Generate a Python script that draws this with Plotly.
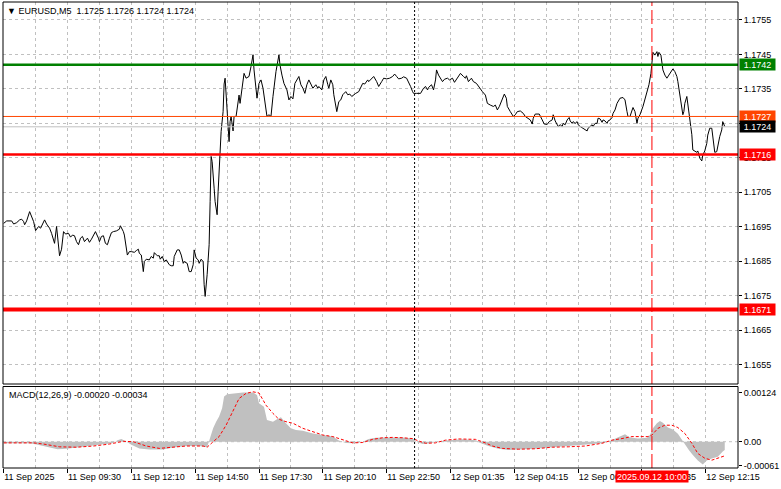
import plotly.graph_objects as go

# ---------------- data (bar index on M5, value) ----------------
price_path = [
    (0, 1.16960), (1.5, 1.16967), (4, 1.16967), (5, 1.16958), (6.5, 1.16962), (8, 1.16970), (9, 1.16972),
    (10, 1.16965), (10.5, 1.16956), (11.5, 1.16967), (13, 1.16994), (14, 1.16980), (15, 1.16965), (16, 1.16939),
    (17.5, 1.16951), (18.5, 1.16946), (19.5, 1.16958), (20.5, 1.16970), (21.5, 1.16958), (23, 1.16946),
    (24, 1.16931), (25, 1.16907), (25.5, 1.16902), (26.5, 1.16951), (27.5, 1.16898), (28, 1.16866),
    (29, 1.16885), (30, 1.16936), (31, 1.16929), (32.5, 1.16931), (33.5, 1.16920), (34.5, 1.16926),
    (35.5, 1.16924), (36.5, 1.16907), (37.5, 1.16898), (38.5, 1.16917), (39.5, 1.16922), (40.5, 1.16907),
    (42, 1.16917), (43, 1.16905), (44, 1.16914), (45, 1.16926), (46, 1.16936), (47.5, 1.16917), (48, 1.16907),
    (49, 1.16922), (50, 1.16924), (51, 1.16902), (52, 1.16898), (53, 1.16917), (54, 1.16933), (55, 1.16936),
    (56.5, 1.16938), (58, 1.16943), (58.5, 1.16953), (60, 1.16936), (60.5, 1.16926), (62, 1.16868),
    (63, 1.16878), (64, 1.16878), (65.5, 1.16876), (66.5, 1.16881), (67.5, 1.16885), (68, 1.16873),
    (69, 1.16868), (70, 1.16820), (70.5, 1.16849), (71.5, 1.16856), (73, 1.16854), (74, 1.16864),
    (75, 1.16859), (75.5, 1.16875), (77, 1.16866), (78, 1.16866), (78.5, 1.16856), (79.5, 1.16864),
    (80.5, 1.16849), (81.5, 1.16854), (83, 1.16840), (84, 1.16837), (85, 1.16837), (85.5, 1.16864),
    (87, 1.16883), (88, 1.16883), (89, 1.16868), (90, 1.16844), (90.5, 1.16849), (92, 1.16844),
    (93, 1.16820), (94, 1.16820), (95, 1.16840), (95.5, 1.16883), (96.5, 1.16859), (97.5, 1.16854),
    (98, 1.16844), (99, 1.16856), (100, 1.16849),
    (100.5, 1.16782), (101, 1.16748), (102, 1.16811), (103, 1.16898), (103.5, 1.17023), (104, 1.17154),
    (104.5, 1.17139), (105, 1.17110), (105.5, 1.17062), (106, 1.17023), (107, 1.16985), (107.5, 1.17052),
    (108, 1.17110), (109, 1.17226), (110, 1.17284), (110.5, 1.17364), (111, 1.17381), (111.5, 1.17342),
    (112.5, 1.17260), (113, 1.17197), (113.5, 1.17255), (114, 1.17270), (115, 1.17228), (115.5, 1.17270),
    (116.5, 1.17270), (118, 1.17332), (118.5, 1.17308), (119.5, 1.17347), (120.5, 1.17395), (121.5, 1.17381),
    (123, 1.17386), (124, 1.17415), (125, 1.17449), (125.5, 1.17405), (127, 1.17323), (128, 1.17366),
    (129, 1.17376), (130, 1.17352), (131, 1.17313), (132, 1.17270), (133, 1.17275), (134, 1.17270),
    (135, 1.17328), (136.5, 1.17400), (138, 1.17449), (138.5, 1.17420), (139.5, 1.17390), (140.5, 1.17366),
    (142, 1.17347), (143, 1.17318), (144, 1.17328), (145, 1.17321), (146, 1.17366), (147.5, 1.17381),
    (148, 1.17386), (149, 1.17362), (150, 1.17352), (151, 1.17337), (152, 1.17362), (153, 1.17376),
    (154, 1.17362), (155, 1.17352), (156.5, 1.17362), (157.5, 1.17352), (158, 1.17357), (159.5, 1.17347),
    (160.5, 1.17376), (161.5, 1.17386), (162.5, 1.17362), (163, 1.17352), (164, 1.17376), (165, 1.17362),
    (165.5, 1.17333), (166.5, 1.17294), (167, 1.17284), (168, 1.17313), (169, 1.17318), (170, 1.17333),
    (171.5, 1.17342), (172.5, 1.17333), (173.5, 1.17335), (174.5, 1.17328), (175.5, 1.17333), (176.5, 1.17337),
    (178, 1.17342), (179, 1.17357), (180, 1.17366), (181, 1.17364), (182.5, 1.17376), (183, 1.17371),
    (184.5, 1.17381), (185.5, 1.17386), (187, 1.17371), (188, 1.17357), (189.5, 1.17371), (190.5, 1.17381),
    (192, 1.17379), (193.5, 1.17381), (195, 1.17386), (196, 1.17393), (197, 1.17386), (198, 1.17379),
    (199.5, 1.17381), (200.5, 1.17385), (202, 1.17381), (203, 1.17371), (204, 1.17357), (205, 1.17342),
    (205.5, 1.17337),
    (207, 1.17337), (209, 1.17337), (210.5, 1.17352), (211.5, 1.17357), (212.5, 1.17347), (213, 1.17354),
    (214.5, 1.17362), (215.5, 1.17347), (216.5, 1.17376), (217, 1.17405), (218, 1.17390), (220, 1.17371),
    (221, 1.17378), (222.5, 1.17381), (223.5, 1.17376), (225, 1.17381), (226, 1.17369), (227.5, 1.17381),
    (228, 1.17386), (229, 1.17395), (230.5, 1.17386), (231.5, 1.17381), (232, 1.17388), (233, 1.17371),
    (234.5, 1.17381), (235.5, 1.17371), (237, 1.17366), (238, 1.17357), (240, 1.17342), (241.5, 1.17332),
    (242.5, 1.17308), (244, 1.17303), (245.5, 1.17299), (246.5, 1.17303), (247.5, 1.17289), (248.5, 1.17299),
    (250, 1.17318), (251, 1.17335), (252, 1.17323), (252.5, 1.17299), (254, 1.17284), (255.5, 1.17270),
    (256.5, 1.17275), (257.5, 1.17284), (259, 1.17286), (260.5, 1.17279), (261.5, 1.17270), (262.5, 1.17267),
    (264, 1.17260), (265, 1.17248), (265.5, 1.17265), (266.5, 1.17277), (268.5, 1.17277), (270, 1.17260),
    (271, 1.17248), (272.5, 1.17247), (273.5, 1.17255), (275, 1.17260), (275.5, 1.17275), (276.5, 1.17257),
    (277.5, 1.17247), (278, 1.17241), (279, 1.17246), (280, 1.17241), (280.5, 1.17250), (281.5, 1.17246),
    (282.5, 1.17260), (283.5, 1.17267), (284, 1.17257), (285, 1.17250), (285.5, 1.17255), (286.5, 1.17250),
    (287.5, 1.17255), (288, 1.17246), (289, 1.17241), (290.5, 1.17236), (291.5, 1.17231), (292.5, 1.17228),
    (293, 1.17236), (294, 1.17241), (295, 1.17246), (295.5, 1.17241), (296.5, 1.17250), (297.5, 1.17250),
    (298, 1.17265), (299, 1.17263), (300, 1.17253), (300.5, 1.17260), (301.5, 1.17257), (302.5, 1.17250),
    (303, 1.17257), (304, 1.17260), (305, 1.17267), (305.5, 1.17279), (306.5, 1.17289), (307.5, 1.17308),
    (309, 1.17323), (310.5, 1.17325), (311.5, 1.17318), (312.5, 1.17284), (313, 1.17270), (314, 1.17270),
    (315, 1.17284), (315.5, 1.17296), (316.5, 1.17284), (317.5, 1.17250), (318, 1.17265), (319, 1.17275),
    (320.5, 1.17299), (321.5, 1.17318), (322.5, 1.17337), (323.5, 1.17362), (324.5, 1.17395), (325, 1.17439),
    (325.5, 1.17456), (326.5, 1.17448), (327.5, 1.17458), (328, 1.17444), (328.5, 1.17456), (329.5, 1.17448),
    (330, 1.17429), (330.5, 1.17405), (331.5, 1.17390), (332.5, 1.17381), (333.5, 1.17390), (335, 1.17405),
    (335.5, 1.17408), (336.5, 1.17400), (337.5, 1.17386), (338, 1.17371), (339, 1.17333), (340, 1.17284),
    (340.5, 1.17275), (341, 1.17284), (341.5, 1.17308), (342.5, 1.17328), (343, 1.17308), (344, 1.17255),
    (345, 1.17217), (345.5, 1.17173), (346.5, 1.17170), (347.5, 1.17166), (348, 1.17170), (349, 1.17149),
    (350, 1.17141), (350.5, 1.17158), (351.5, 1.17170), (352.5, 1.17192), (353, 1.17216), (354, 1.17236),
    (355, 1.17236), (355.5, 1.17207), (356.5, 1.17166), (357.5, 1.17168), (358, 1.17187), (359, 1.17212),
    (360, 1.17231), (360.5, 1.17255), (361.5, 1.17241),
]

macd_hist_path = [
    (0, -0.00004), (13, -0.00004), (16.5, -0.00007), (20, -0.00011), (23, -0.00013), (27, -0.00019),
    (31.5, -0.00018), (38, -0.00014), (43, -0.00011), (48, -0.00006), (55, -0.00003), (57, 0.00004),
    (59, 0.00007), (61, 0.00002), (64, -0.00008), (68, -0.00017), (73, -0.00020), (80, -0.00020),
    (85, -0.00015), (91.5, -0.00011), (98, -0.00011), (102, -0.00014), (103.5, 0.00013), (105, 0.00034),
    (106.5, 0.00051), (108, 0.00064), (109.5, 0.00085), (110.5, 0.00115), (112, 0.00121), (115, 0.00123),
    (120, 0.00125), (125, 0.00125), (127, 0.00119), (128, 0.00098), (130.5, 0.00089), (132, 0.00055),
    (135, 0.00051), (137, 0.00057), (139, 0.00062), (141.5, 0.00047), (144, 0.00034), (146.5, 0.00030),
    (150, 0.00028), (155, 0.00021), (160, 0.00017), (165, 0.00013), (168, 0.00003), (171.5, -0.00003),
    (175.5, -0.00004), (180, 0.0), (183, 0.00007), (186.5, 0.00010), (191.5, 0.00011), (200, 0.00011),
    (205, 0.00008), (207, 0.0), (210, -0.00006), (214, -0.00004), (218, 0.00001), (223, 0.00004),
    (230, 0.00006), (236.5, 0.00004), (239, -0.00003), (243, -0.00011), (248, -0.00018), (253, -0.00021),
    (258, -0.00020), (266.5, -0.00018), (275, -0.00014), (283, -0.00011), (291.5, -0.00009), (300, -0.00004),
    (303, 0.0), (306.5, 0.00008), (309, 0.00014), (311.5, 0.00019), (314, 0.00011), (318, 0.00008),
    (322.5, 0.00010), (324, 0.00017), (325.5, 0.00034), (327.5, 0.00047), (329, 0.00053), (330.5, 0.00048),
    (333, 0.00036), (335.5, 0.00031), (338, 0.00020), (340, 0.00004), (341.5, -0.00008), (343.5, -0.00021),
    (345.5, -0.00034), (348, -0.00048), (350.5, -0.00058), (352.5, -0.00048), (355, -0.00043),
    (358, -0.00038), (360.5, -0.00025), (361.5, -0.00021),
]

macd_signal_path = [
    (0, -0.00003), (15, -0.00003), (20, -0.00006), (28, -0.00013), (36.5, -0.00014), (45, -0.00011),
    (53, -0.00006), (60, 0.00001), (65, 0.0), (71.5, -0.00011), (78, -0.00017), (85, -0.00014),
    (91.5, -0.00011), (100, -0.00011), (102, -0.00014), (105, 0.0), (108, 0.00013), (111.5, 0.00042),
    (115, 0.00081), (118, 0.00110), (121.5, 0.00123), (125, 0.00127), (128, 0.00124), (131.5, 0.00093),
    (135, 0.00072), (138, 0.00057), (141.5, 0.00051), (145, 0.00047), (150, 0.00034), (155, 0.00025),
    (160, 0.00017), (165, 0.00013), (170, 0.00004), (175, -0.00003), (180, -0.00002), (185, 0.00006),
    (190, 0.00010), (195, 0.00011), (200, 0.00010), (205, 0.00008), (208, 0.00002), (211.5, -0.00004),
    (216.5, -0.00003), (221.5, 0.00004), (228, 0.00007), (236.5, 0.00006), (241.5, -0.00003),
    (245, -0.00011), (250, -0.00017), (255, -0.00018), (258, -0.00019), (266.5, -0.00018), (275, -0.00014),
    (283, -0.00013), (291.5, -0.00011), (300, -0.00004), (305, 0.00004), (310, 0.00008), (315, 0.00013),
    (323, 0.00013), (325, 0.00017), (328, 0.00034), (331.5, 0.00042), (335, 0.00042), (338, 0.00036),
    (341.5, 0.00021), (345, -0.00004), (348, -0.00030), (351.5, -0.00042), (355, -0.00047), (358, -0.00042),
    (361.5, -0.00036),
]

x_tick_bars = [0, 32, 64, 96, 128, 160, 192, 224, 256, 288, 320, 352]
x_tick_labels = ["11 Sep 2025", "11 Sep 09:30", "11 Sep 12:10", "11 Sep 14:50", "11 Sep 17:30",
                 "11 Sep 20:10", "11 Sep 22:50", "12 Sep 01:35", "12 Sep 04:15", "12 Sep 06:55",
                 "12 Sep 09:35", "12 Sep 12:15"]
price_ticks = [1.1655, 1.1665, 1.1675, 1.1685, 1.1695, 1.1705, 1.1715, 1.1725, 1.1735, 1.1745, 1.1755]
macd_ticks = [0.00124, 0.0, -0.00061]
macd_tick_labels = ["0.00124", "0.00", "-0.00061"]

resistance_level = 1.1742
support_level = 1.1716
target_level = 1.1671
ask_price = 1.1727
bid_price = 1.1724
day_separator_bar = 206
crosshair_bar = 325
crosshair_label = "2025.09.12 10:00"
header_text = "\u25bc EURUSD,M5 \u00a01.1725 1.1726 1.1724 1.1724"
macd_text = "MACD(12,26,9) -0.00020 -0.00034"

# ---------------- figure ----------------
FONT = "Liberation Sans, Arial, sans-serif"
GRID = "#C0C0C0"
W, H = 781, 489
mt, mb, ml, mr = 2, 21, 3, 41
plot_h = H - mt - mb
main_dom = [(H - mb - 384) / plot_h, 1.0]
macd_dom = [0.0, (H - mb - 386.5) / plot_h]

pb, pc = zip(*price_path)
hb, hv = zip(*macd_hist_path)
sb, sv = zip(*macd_signal_path)

fig = go.Figure()
fig.add_trace(go.Scatter(x=hb, y=hv, xaxis="x", yaxis="y2", mode="lines",
                         line=dict(width=0, color="#C0C0C0"), fill="tozeroy",
                         fillcolor="#C0C0C0", hoverinfo="skip"))
fig.add_trace(go.Scatter(x=sb, y=sv, xaxis="x", yaxis="y2", mode="lines",
                         line=dict(color="#FF0000", width=1, dash="3px,2px"), hoverinfo="skip"))
fig.add_trace(go.Scatter(x=pb, y=pc, xaxis="x", yaxis="y", mode="lines",
                         line=dict(color="black", width=1), hoverinfo="skip"))

shapes = []
# MACD zero line
shapes.append(dict(type="line", xref="paper", x0=0, x1=1, yref="y2", y0=0, y1=0,
                   line=dict(color=GRID, width=1, dash="3px,3px"), layer="below"))
# level lines
for lvl, col, w in [(ask_price, "#FF4500", 1), (bid_price, "#C0C0C0", 1),
                    (resistance_level, "#008000", 2.5), (support_level, "#FF0000", 2.5),
                    (target_level, "#FF0000", 4)]:
    shapes.append(dict(type="line", xref="paper", x0=0, x1=1, yref="y", y0=lvl, y1=lvl,
                       line=dict(color=col, width=w), layer="above"))
# vertical markers
for b, col, dash in [(day_separator_bar, "black", "2px,2px"), (crosshair_bar, "#FF0000", "14px,4px")]:
    for dom in [main_dom, macd_dom]:
        shapes.append(dict(type="line", xref="x", x0=b, x1=b, yref="paper", y0=dom[0], y1=dom[1],
                           line=dict(color=col, width=1, dash=dash), layer="above"))
# pane borders
for dom in [main_dom, macd_dom]:
    shapes.append(dict(type="rect", xref="paper", x0=0, x1=1, yref="paper", y0=dom[0], y1=dom[1],
                       line=dict(color="black", width=1), fillcolor="rgba(0,0,0,0)", layer="above"))

annotations = []
for lvl, col in [(resistance_level, "#008000"), (ask_price, "#FF4500"), (bid_price, "#000000"),
                 (support_level, "#FF0000"), (target_level, "#FF0000")]:
    annotations.append(dict(xref="paper", x=1, xshift=1, xanchor="left", yref="y", y=lvl,
                            yanchor="middle", text=f"{lvl:.4f}", showarrow=False, bgcolor=col,
                            font=dict(family=FONT, size=9, color="white"), borderpad=1,
                            width=33, height=9, align="center"))
annotations.append(dict(xref="x", x=crosshair_bar, xanchor="center", yref="paper",
                        y=-8.5 / plot_h, yanchor="middle", text=crosshair_label, showarrow=False,
                        bgcolor="#FF0000", font=dict(family=FONT, size=9, color="white"),
                        borderpad=1, height=9))
annotations.append(dict(xref="paper", x=0, xshift=2, xanchor="left", yref="paper",
                        y=1 - 9 / plot_h, yanchor="middle", text=header_text, showarrow=False,
                        font=dict(family=FONT, size=9, color="black")))
annotations.append(dict(xref="paper", x=0, xshift=4, xanchor="left", yref="paper",
                        y=(H - mb - 395) / plot_h, yanchor="middle", text=macd_text, showarrow=False,
                        font=dict(family=FONT, size=9, color="black")))

x_left = (3 - 3.7) / 2
x_right = (740 - 3.7) / 2
fig.update_layout(
    width=W, height=H, margin=dict(l=ml, r=mr, t=mt, b=mb),
    paper_bgcolor="white", plot_bgcolor="white", showlegend=False,
    shapes=shapes, annotations=annotations,
    xaxis=dict(domain=[0, 1], anchor="y2", range=[x_left, x_right],
               tickmode="array", tickvals=x_tick_bars, ticktext=x_tick_labels,
               ticks="outside", ticklen=4, tickcolor="black", ticklabelposition="outside right",
               tickfont=dict(family=FONT, size=9, color="black"),
               showgrid=True, gridcolor=GRID, gridwidth=1, griddash="3px,3px",
               minor=dict(tickmode="linear", tick0=0, dtick=16, showgrid=True, gridcolor=GRID,
                          gridwidth=1, griddash="3px,3px", ticks=""),
               zeroline=False, showline=False),
    yaxis=dict(domain=main_dom, anchor="x", side="right", range=[1.16494, 1.17602],
               tickmode="array", tickvals=price_ticks, ticktext=[f"{t:.4f}" for t in price_ticks],
               ticks="outside", ticklen=3, tickcolor="black",
               tickfont=dict(family=FONT, size=9, color="black"),
               showgrid=True, gridcolor=GRID, gridwidth=1, griddash="3px,3px",
               zeroline=False, showline=False),
    yaxis2=dict(domain=macd_dom, anchor="x", side="right", range=[-0.000669, 0.001405],
                tickmode="array", tickvals=macd_ticks, ticktext=macd_tick_labels,
                ticks="outside", ticklen=3, tickcolor="black",
                tickfont=dict(family=FONT, size=9, color="black"),
                showgrid=False, zeroline=False, showline=False),
)

fig.write_html("out.html", config={"displayModeBar": False},
               post_script="document.body.style.margin='0';document.body.style.overflow='hidden';")
